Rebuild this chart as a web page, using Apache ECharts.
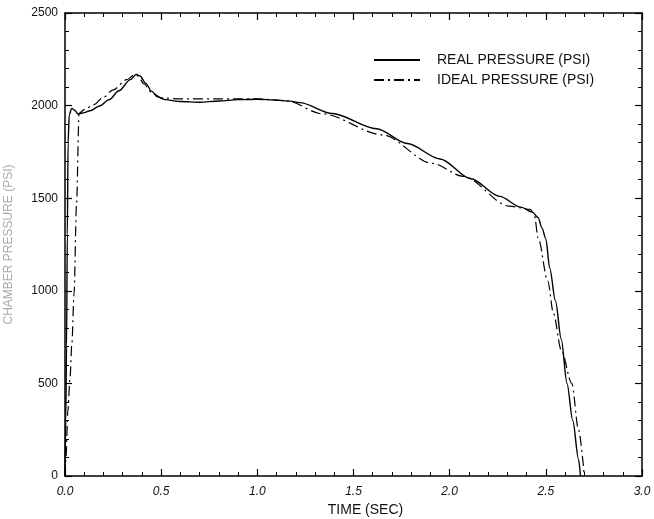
<!DOCTYPE html>
<html>
	<head>
		<meta charset="utf-8">
		<title></title>
		<style>
			html, body { margin: 0; padding: 0; background: #fff; }
		</style>
	</head>
	<body>
		<div id="container" style="height: 519px; width: 654px"></div>
		<script type="text/javascript" src="https://cdn.jsdelivr.net/npm/echarts@6/dist/echarts.min.js"></script>
		<script type="text/javascript">
			// time (sec), pressure (psi)
			var realTime = [0, 0.004, 0.008, 0.012, 0.016, 0.022, 0.035, 0.05, 0.068, 0.1, 0.13, 0.18, 0.23, 0.28, 0.34, 0.37, 0.39, 0.42, 0.45, 0.48, 0.52, 0.6, 0.7, 0.8, 0.9, 1.0, 1.1, 1.17, 1.22, 1.39, 1.62, 1.78, 1.95, 2.11, 2.26, 2.37, 2.43, 2.46, 2.48, 2.5, 2.52, 2.55, 2.58, 2.61, 2.64, 2.67, 2.68];
			var realPsi = [0, 300, 700, 1300, 1800, 1950, 1985, 1975, 1955, 1962, 1972, 1998, 2032, 2080, 2140, 2168, 2160, 2120, 2078, 2048, 2032, 2022, 2018, 2025, 2032, 2034, 2030, 2024, 2016, 1957, 1875, 1795, 1712, 1605, 1510, 1452, 1425, 1395, 1340, 1280, 1124, 946, 740, 500, 300, 90, 0];

			var idealTime = [0, 0.005, 0.015, 0.026, 0.036, 0.047, 0.06, 0.073, 0.1, 0.15, 0.2, 0.25, 0.32, 0.36, 0.38, 0.41, 0.45, 0.5, 0.6, 0.8, 1.0, 1.15, 1.34, 1.65, 1.91, 2.07, 2.31, 2.42, 2.44, 2.46, 2.51, 2.54, 2.58, 2.635, 2.67, 2.7];
			var idealPsi = [0, 100, 350, 530, 720, 985, 1470, 1958, 1978, 2005, 2045, 2085, 2140, 2165, 2160, 2118, 2070, 2042, 2036, 2036, 2036, 2026, 1955, 1842, 1688, 1618, 1457, 1440, 1412, 1285, 1054, 876, 680, 500, 250, 0];

			var xTicks = ['0.0', '0.5', '1.0', '1.5', '2.0', '2.5', '3.0'];

			function pairs(xs, ys) {
				return xs.map(function (x, i) { return [x, ys[i]]; });
			}

			var font = 'Liberation Sans';
			var dom = document.getElementById("container");
			var myChart = echarts.init(dom);

			var frameLine = { show: true, onZero: false, lineStyle: { color: '#000', width: 1.5 } };
			var majorTick = { show: true, inside: true, length: 7, lineStyle: { color: '#000', width: 1.2 } };
			var minorTick = { show: true, splitNumber: 5, length: 4, lineStyle: { color: '#000', width: 1 } };

			var option = {
				backgroundColor: '#fff',
				animation: false,
				grid: { left: 65, right: 12, top: 13, bottom: 43, containLabel: false, outerBoundsMode: 'none' },
				legend: {
					orient: 'vertical',
					left: 368,
					top: 48,
					itemWidth: 46,
					itemHeight: 10,
					itemGap: 6,
					itemStyle: { opacity: 0 },
					textStyle: { fontFamily: font, fontSize: 14, color: '#111', padding: [0, 0, 0, 12] },
					data: ['REAL PRESSURE (PSI)', 'IDEAL PRESSURE (PSI)']
				},
				xAxis: [{
					type: 'value',
					min: 0, max: 3, interval: 0.5,
					position: 'bottom',
					name: 'TIME (SEC)',
					nameLocation: 'middle',
					nameGap: 24,
					nameTextStyle: { fontFamily: font, fontSize: 14, color: '#111', padding: [0, 0, 0, 24] },
					axisLine: frameLine,
					axisTick: majorTick,
					minorTick: minorTick,
					splitLine: { show: false },
					axisLabel: {
						fontFamily: font, fontSize: 12, fontStyle: 'italic', color: '#111', margin: 10,
						formatter: function (v) { return xTicks[Math.round(v * 2)]; }
					}
				}, {
					type: 'value',
					min: 0, max: 3, interval: 0.5,
					position: 'top',
					axisLine: frameLine,
					axisTick: majorTick,
					minorTick: minorTick,
					splitLine: { show: false },
					axisLabel: { show: false }
				}],
				yAxis: [{
					type: 'value',
					min: 0, max: 2500, interval: 500,
					position: 'left',
					name: 'CHAMBER PRESSURE (PSI)',
					nameLocation: 'middle',
					nameGap: 50,
					nameTextStyle: { fontFamily: font, fontSize: 12, color: '#aaa' },
					axisLine: frameLine,
					axisTick: majorTick,
					minorTick: minorTick,
					splitLine: { show: false },
					axisLabel: {
						fontFamily: font, fontSize: 12, color: '#111', margin: 7,
						formatter: function (v) { return String(v); }
					}
				}, {
					type: 'value',
					min: 0, max: 2500, interval: 500,
					position: 'right',
					axisLine: frameLine,
					axisTick: majorTick,
					minorTick: minorTick,
					splitLine: { show: false },
					axisLabel: { show: false }
				}],
				series: [{
					name: 'REAL PRESSURE (PSI)',
					type: 'line',
					symbol: 'none',
					smooth: 0.3,
					smoothMonotone: 'x',
					lineStyle: { color: '#000', width: 1.4 },
					itemStyle: { color: '#000' },
					data: pairs(realTime, realPsi)
				}, {
					name: 'IDEAL PRESSURE (PSI)',
					type: 'line',
					symbol: 'none',
					smooth: 0.3,
					smoothMonotone: 'x',
					lineStyle: { color: '#000', width: 1.2, type: [10, 4, 2, 4] },
					itemStyle: { color: '#000' },
					data: pairs(idealTime, idealPsi)
				}]
			};

			if (option && typeof option === "object") {
				myChart.setOption(option, true);
			}
		</script>
	</body>
</html>
